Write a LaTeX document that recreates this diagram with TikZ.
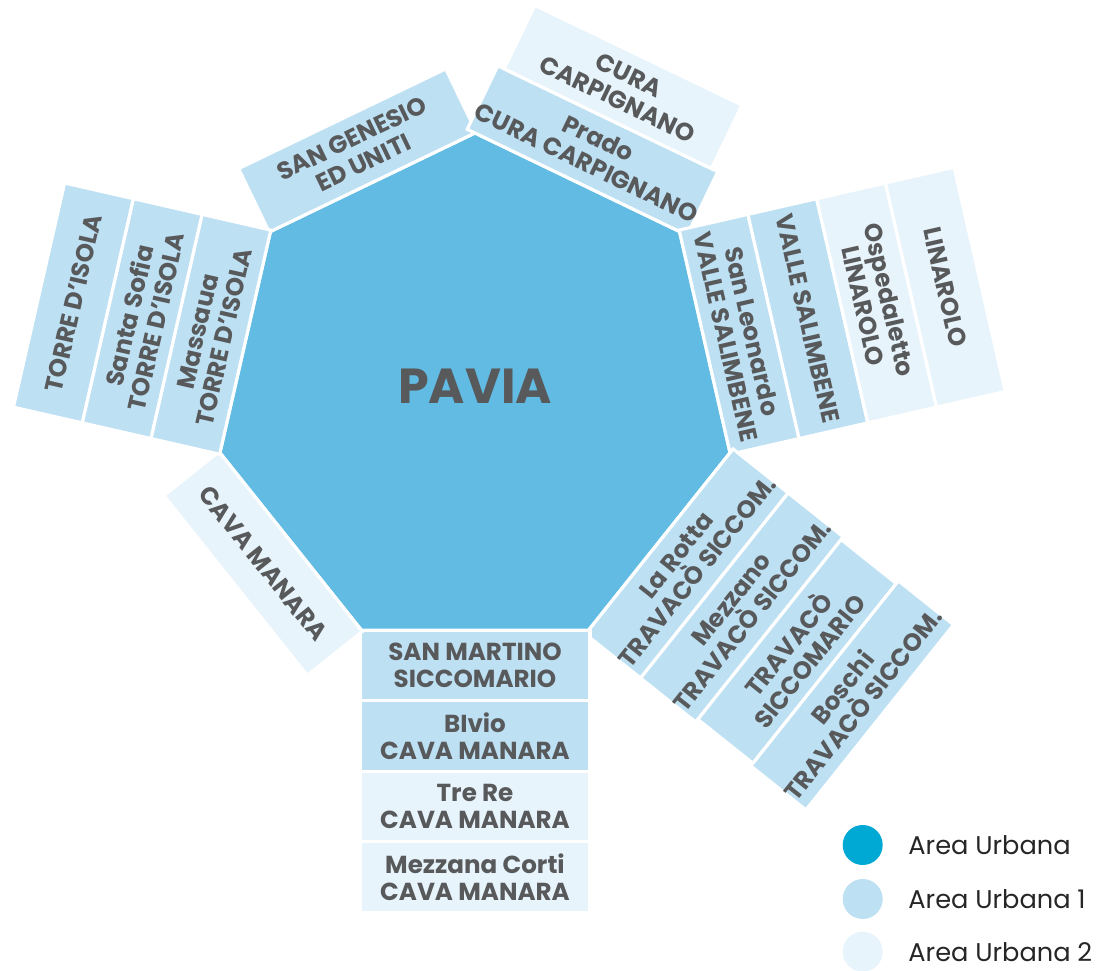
\documentclass[tikz,border=0pt]{standalone}
\usepackage{fontspec}
\setmainfont{Poppins}
\usepackage{tikz}
\usetikzlibrary{positioning}
\definecolor{azzurro}{HTML}{61BBE2}
\definecolor{urbana}{HTML}{00A8D4}
\definecolor{urbanaA}{HTML}{BDE0F3}
\definecolor{urbanaB}{HTML}{E8F4FB}
\definecolor{testo}{HTML}{58595B}

\begin{document}
\begin{tikzpicture}[x=0.02cm,y=0.02cm,
  zona/.style={draw=white,line width=1.8pt,minimum width=4.6cm,minimum height=1.41cm,
    inner sep=0pt,align=center,text=testo,font=\fontsize{14}{15.3}\selectfont\bfseries},
  zonaA/.style={zona,fill=urbanaA},
  zonaB/.style={zona,fill=urbanaB},
  pallino/.style={circle,minimum size=0.8cm,inner sep=0pt},
  voce/.style={inner sep=0pt,text=black!85,font=\fontsize{14.6}{17}\selectfont}]
\useasboundingbox (-475,-576.4) rectangle (628,394.6);
% ettagono
\fill[azzurro,draw=white,line width=1.8pt] (90:261.6)
  \foreach \k in {1,...,6} { -- (90-\k*51.4286:261.6) } -- cycle;
\node[text=testo,font=\fontsize{28}{32}\selectfont\bfseries] (pavia) at (0,8) {PAVIA};
% nord-ovest
\node[zonaA,rotate=25.71] (sangenesio) at (115.71:270.95) {SAN GENESIO\\ED UNITI};
% nord-est
\node[zonaA,rotate=-25.71] (prado) at (64.29:270.95) {Prado\\CURA CARPIGNANO};
\node[zonaB,rotate=-25.71] (cura) at (64.29:341.45) {CURA\\CARPIGNANO};
% est
\node[zonaA,rotate=-77.14] (sanleonardo) at (12.86:270.95) {San Leonardo\\VALLE SALIMBENE};
\node[zonaA,rotate=-77.14] (valle) at (12.86:341.45) {VALLE SALIMBENE};
\node[zonaB,rotate=-77.14] (ospedaletto) at (12.86:411.95) {Ospedaletto\\LINAROLO};
\node[zonaB,rotate=-77.14] (linarolo) at (12.86:482.45) {LINAROLO};
% sud-est
\node[zonaA,rotate=51.43] (larotta) at (-38.57:270.95) {La Rotta\\TRAVACÒ SICCOM.};
\node[zonaA,rotate=51.43] (mezzano) at (-38.57:341.45) {Mezzano\\TRAVACÒ SICCOM.};
\node[zonaA,rotate=51.43] (travaco) at (-38.57:411.95) {TRAVACÒ\\SICCOMARIO};
\node[zonaA,rotate=51.43] (boschi) at (-38.57:482.45) {Boschi\\TRAVACÒ SICCOM.};
% sud
\node[zonaA] (sanmartino) at (-90:270.95) {SAN MARTINO\\SICCOMARIO};
\node[zonaA] (bivio) at (-90:341.45) {BIvio\\CAVA MANARA};
\node[zonaB] (trere) at (-90:411.95) {Tre Re\\CAVA MANARA};
\node[zonaB] (mezzana) at (-90:482.45) {Mezzana Corti\\CAVA MANARA};
% sud-ovest
\node[zonaB,rotate=-51.43] (cava) at (-141.43:270.95) {CAVA MANARA};
% ovest
\node[zonaA,rotate=77.14] (massaua) at (167.14:270.95) {Massaua\\TORRE D'ISOLA};
\node[zonaA,rotate=77.14] (santasofia) at (167.14:341.45) {Santa Sofia\\TORRE D'ISOLA};
\node[zonaA,rotate=77.14] (torre) at (167.14:411.95) {TORRE D'ISOLA};
% legenda
\node[pallino,fill=urbana] (leg0) at (387.7,-450.4) {};
\node[pallino,fill=urbanaA] (leg1) at (387.7,-504.4) {};
\node[pallino,fill=urbanaB] (leg2) at (387.7,-557.1) {};
\node[voce,right=0.5cm of leg0] (voce0) {Area Urbana};
\node[voce,right=0.5cm of leg1] (voce1) {Area Urbana 1};
\node[voce,right=0.5cm of leg2] (voce2) {Area Urbana 2};
\end{tikzpicture}
\end{document}
